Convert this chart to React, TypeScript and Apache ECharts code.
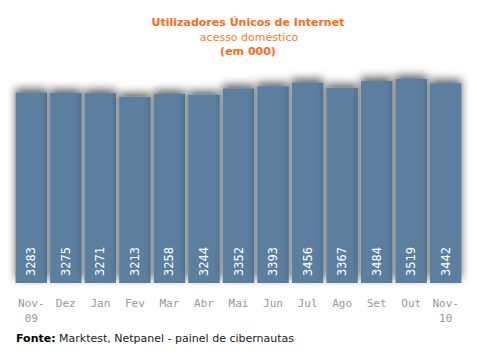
import React, { useEffect, useRef } from "react";
import * as echarts from "echarts";

const categories = ["Nov-\n09", "Dez", "Jan", "Fev", "Mar", "Abr", "Mai", "Jun", "Jul", "Ago", "Set", "Out", "Nov-\n10"];
const values = [3283, 3275, 3271, 3213, 3258, 3244, 3352, 3393, 3456, 3367, 3484, 3519, 3442];
const titleLines = ["Utilizadores Únicos de Internet", "acesso doméstico", "(em 000)"];
const footerSource = "Marktest, Netpanel - painel de cibernautas";

export default function App() {
  const ref = useRef<HTMLDivElement>(null);
  useEffect(() => {
    if (!ref.current) return;
    const chart = echarts.init(ref.current, null, { renderer: "svg" });
    const font = "'DejaVu Sans', Verdana, sans-serif";
    chart.setOption({
      animation: false,
      backgroundColor: "#ffffff",
      grid: { left: 14, right: 14, top: 51, bottom: 73 },
      xAxis: {
        type: "category",
        data: categories,
        axisLine: { show: false },
        axisTick: { show: false },
        axisLabel: { color: "#999999", fontSize: 11, fontFamily: "'DejaVu Sans Mono', monospace", margin: 13, lineHeight: 15, interval: 0 },
      },
      yAxis: { type: "value", min: 0, max: 4000, show: false, splitLine: { show: false } },
      series: [
        {
          type: "bar",
          data: values,
          barCategoryGap: "9%",
          itemStyle: { color: "#5b7fa0", shadowColor: "rgba(0,0,0,0.6)", shadowBlur: 8, shadowOffsetY: -4 },
          label: {
            show: true,
            position: "insideBottom",
            rotate: 90,
            align: "left",
            verticalAlign: "middle",
            distance: 7,
            color: "#ffffff",
            fontSize: 12,
            fontFamily: "'DejaVu Sans Mono', monospace",
          },
        },
      ],
      graphic: [
        { type: "text", x: 248, y: 22, style: { text: titleLines[0], fill: "#ff6a1a", font: "bold 11px " + font, align: "center", verticalAlign: "middle" } },
        { type: "text", x: 249, y: 37, style: { text: titleLines[1], fill: "#ff7a2a", font: "11px " + font, align: "center", verticalAlign: "middle" } },
        { type: "text", x: 248, y: 51, style: { text: titleLines[2], fill: "#ff6a1a", font: "bold 11px " + font, align: "center", verticalAlign: "middle" } },
        {
          type: "text",
          x: 16,
          y: 338,
          style: {
            text: "{b|Fonte:} " + footerSource,
            fill: "#222",
            font: "11px " + font,
            verticalAlign: "middle",
            rich: { b: { fontWeight: "bold", fill: "#000", fontSize: 11, fontFamily: font } },
          },
        },
      ],
    });
    return () => chart.dispose();
  }, []);
  return <div ref={ref} style={{ width: 477, height: 356, margin: -8 }} />;
}
